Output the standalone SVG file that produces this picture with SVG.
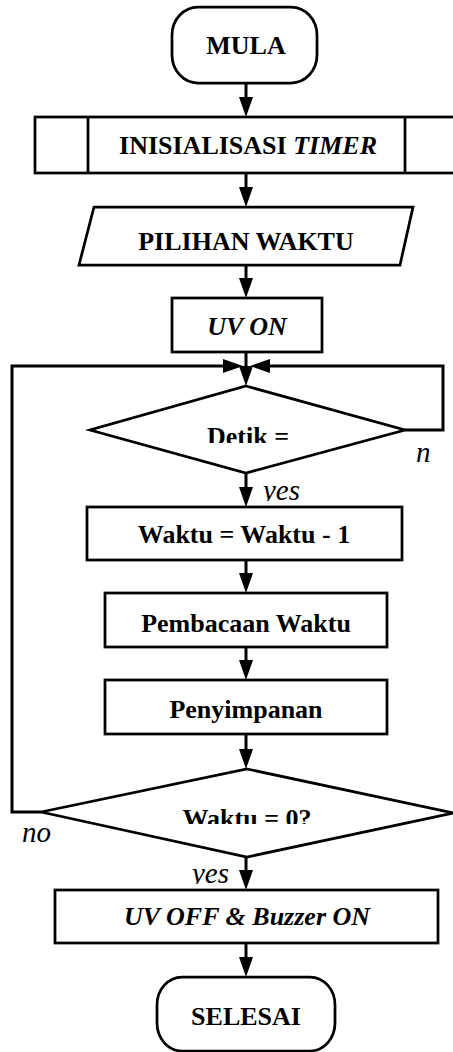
<svg xmlns="http://www.w3.org/2000/svg" width="453" height="1052" viewBox="0 0 453 1052">
  <defs>
    <marker id="arrow" markerUnits="userSpaceOnUse" markerWidth="20" markerHeight="14" refX="2" refY="7" orient="auto">
      <path d="M0,0 L20,7 L0,14 z" fill="#000"/>
    </marker>
    <clipPath id="clipDetik"><rect x="150" y="400" width="200" height="43"/></clipPath>
    <clipPath id="clipWaktu0"><rect x="150" y="790" width="200" height="34"/></clipPath>
    <clipPath id="clipYes1"><rect x="255" y="470" width="60" height="31"/></clipPath>
    <clipPath id="clipYes2"><rect x="185" y="855" width="60" height="29"/></clipPath>
  </defs>

  <rect width="453" height="1052" fill="#fff"/>

  <!-- connectors -->
  <g id="connectors" fill="none" stroke="#000" stroke-width="3" marker-end="url(#arrow)">
    <line x1="246" y1="83" x2="246" y2="99"/>
    <line x1="246" y1="173" x2="246" y2="189"/>
    <line x1="246" y1="265" x2="246" y2="280"/>
    <line x1="246" y1="352" x2="246" y2="368"/>
    <path d="M405,430 H443 V366 H268"/>
    <path d="M41,812 H12 V366 H225"/>
    <line x1="246" y1="473" x2="246" y2="489"/>
    <line x1="246" y1="560" x2="246" y2="575"/>
    <line x1="246" y1="647" x2="246" y2="662"/>
    <line x1="246" y1="734" x2="246" y2="751"/>
    <line x1="246" y1="857" x2="246" y2="872"/>
    <line x1="246" y1="943" x2="246" y2="959"/>
  </g>

  <!-- branch labels -->
  <text x="416" y="462" font-family="Liberation Serif" font-size="29" font-style="italic">n</text>
  <text x="263" y="500" clip-path="url(#clipYes1)" font-family="Liberation Serif" font-size="29" font-style="italic">yes</text>
  <text x="22" y="842" font-family="Liberation Serif" font-size="29" font-style="italic">no</text>
  <text x="192" y="883" clip-path="url(#clipYes2)" font-family="Liberation Serif" font-size="29" font-style="italic">yes</text>

  <!-- nodes -->
  <g id="mula">
    <rect x="172" y="7" width="145" height="76" rx="26" ry="28" fill="#fff" stroke="#000" stroke-width="2.75"/>
    <text x="246" y="54" font-family="Liberation Serif" font-size="26" font-weight="bold" text-anchor="middle">MULA</text>
  </g>
  <g id="inisialisasi">
    <rect x="35" y="117" width="422" height="56" fill="#fff" stroke="#000" stroke-width="2.75"/>
    <line x1="88" y1="117" x2="88" y2="173" stroke="#000" stroke-width="2.75"/>
    <line x1="405" y1="117" x2="405" y2="173" stroke="#000" stroke-width="2.75"/>
    <text x="248" y="154" font-family="Liberation Serif" font-size="26" font-weight="bold" text-anchor="middle">INISIALISASI <tspan font-style="italic">TIMER</tspan></text>
  </g>
  <g id="pilihan">
    <polygon points="94,207 413,207 400,265 79,265" fill="#fff" stroke="#000" stroke-width="2.75"/>
    <text x="246" y="250" font-family="Liberation Serif" font-size="26" font-weight="bold" text-anchor="middle">PILIHAN WAKTU</text>
  </g>
  <g id="uv-on">
    <rect x="172" y="298" width="150" height="54" fill="#fff" stroke="#000" stroke-width="2.75"/>
    <text x="247" y="335" font-family="Liberation Serif" font-size="26" font-weight="bold" font-style="italic" text-anchor="middle">UV ON</text>
  </g>
  <g id="detik">
    <polygon points="246,386 405,430 246,473 90,430" fill="#fff" stroke="#000" stroke-width="2.75"/>
    <text x="248" y="445" clip-path="url(#clipDetik)" font-family="Liberation Serif" font-size="26" font-weight="bold" text-anchor="middle">Detik =</text>
  </g>
  <g id="kurang">
    <rect x="87" y="507" width="315" height="53" fill="#fff" stroke="#000" stroke-width="2.75"/>
    <text x="244" y="543" font-family="Liberation Serif" font-size="26" font-weight="bold" text-anchor="middle">Waktu = Waktu - 1</text>
  </g>
  <g id="pembacaan">
    <rect x="105" y="593" width="282" height="54" fill="#fff" stroke="#000" stroke-width="2.75"/>
    <text x="246" y="632" font-family="Liberation Serif" font-size="26" font-weight="bold" text-anchor="middle">Pembacaan Waktu</text>
  </g>
  <g id="penyimpanan">
    <rect x="105" y="680" width="282" height="54" fill="#fff" stroke="#000" stroke-width="2.75"/>
    <text x="246" y="718" font-family="Liberation Serif" font-size="26" font-weight="bold" text-anchor="middle">Penyimpanan</text>
  </g>
  <g id="waktu-nol">
    <polygon points="247,769 453,813 247,857 41,812" fill="#fff" stroke="#000" stroke-width="2.75"/>
    <text x="247" y="827" clip-path="url(#clipWaktu0)" font-family="Liberation Serif" font-size="26" font-weight="bold" text-anchor="middle">Waktu = 0?</text>
  </g>
  <g id="uv-off">
    <rect x="55" y="890" width="383" height="53" fill="#fff" stroke="#000" stroke-width="2.75"/>
    <text x="247" y="925" font-family="Liberation Serif" font-size="26" font-weight="bold" font-style="italic" text-anchor="middle">UV OFF &amp; Buzzer ON</text>
  </g>
  <g id="selesai">
    <rect x="157" y="977" width="178" height="74" rx="25" ry="28" fill="#fff" stroke="#000" stroke-width="2.75"/>
    <text x="246" y="1025" font-family="Liberation Serif" font-size="26" font-weight="bold" text-anchor="middle">SELESAI</text>
  </g>
</svg>
